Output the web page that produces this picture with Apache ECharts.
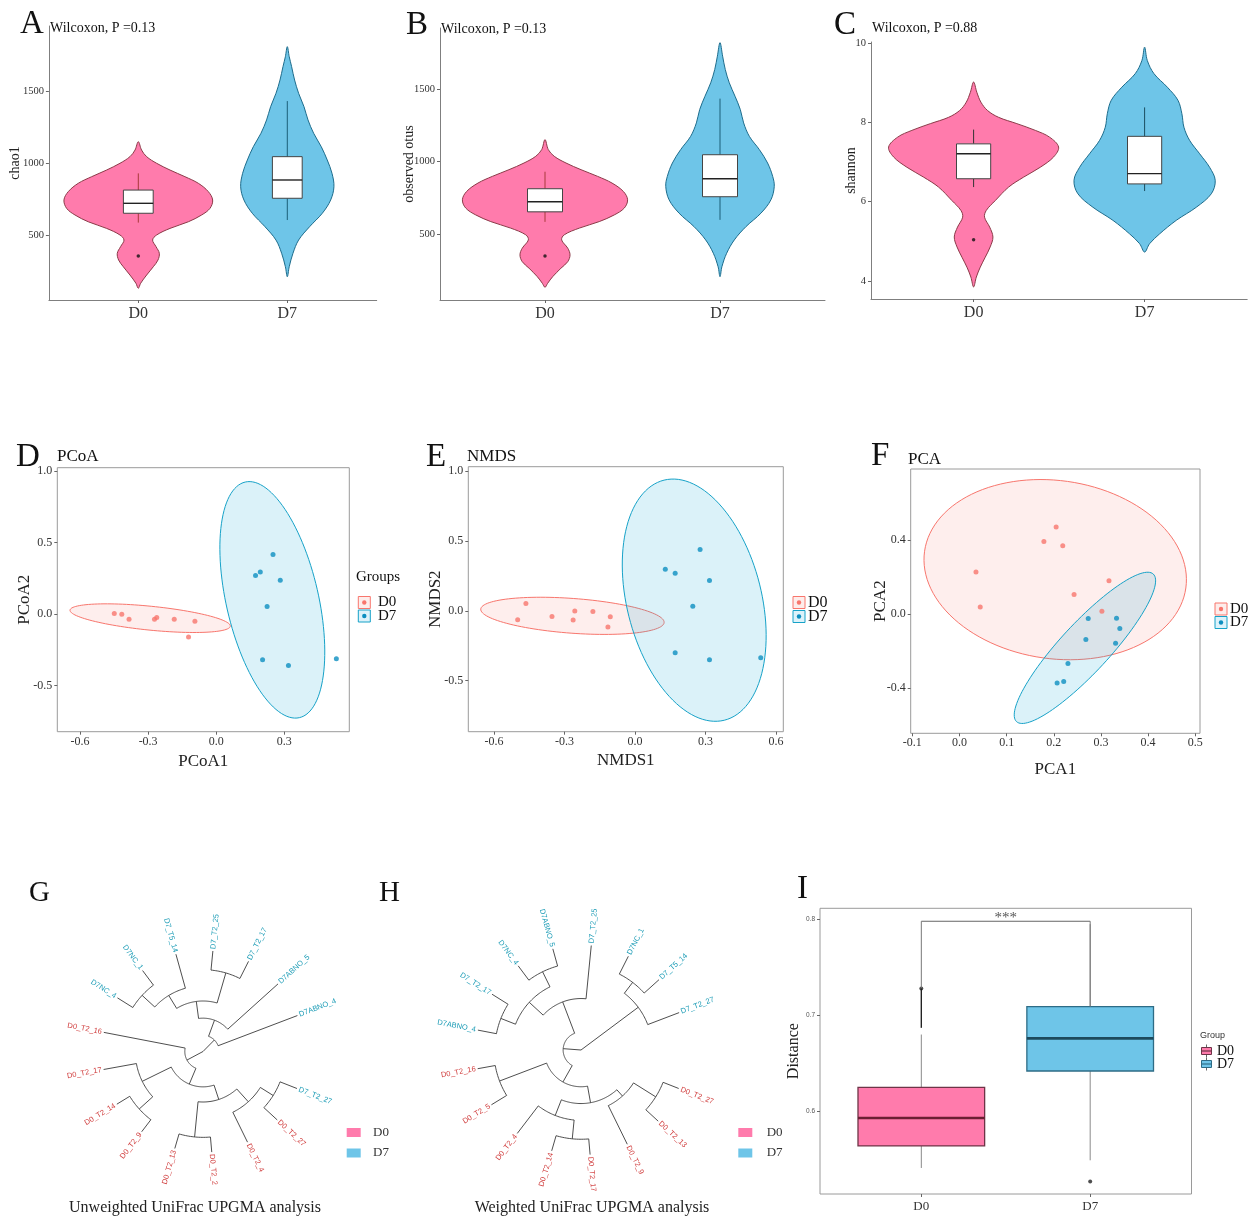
<!DOCTYPE html>
<html>
<head>
<meta charset="utf-8">
<script src="https://cdn.jsdelivr.net/npm/echarts@6/dist/echarts.min.js"></script>
<style>
html, body { margin: 0; padding: 0; background: #fff; }
#chart { width: 1253px; height: 1217px; }
</style>
</head>
<body>
<div id="chart"></div>
<script>
const groups = ['D0', 'D7'];

// A: chao1 violins, level values and half widths (in group units)
const chaoLevelD0 = [1148, 1090, 1044, 998, 951, 905, 859, 801, 743, 685, 639, 592, 546, 500, 465, 419, 373, 326, 280, 222, 165, 130];
const chaoWidthD0 = [0, 0.022, 0.056, 0.123, 0.213, 0.313, 0.403, 0.470, 0.499, 0.481, 0.425, 0.336, 0.213, 0.123, 0.096, 0.119, 0.141, 0.132, 0.101, 0.056, 0.016, 0];
const chaoLevelD7 = [1808, 1738, 1669, 1576, 1484, 1391, 1299, 1206, 1113, 1021, 928, 835, 743, 651, 558, 465, 373, 280, 210];
const chaoWidthD7 = [0, 0.013, 0.029, 0.049, 0.076, 0.112, 0.139, 0.177, 0.228, 0.268, 0.300, 0.313, 0.291, 0.235, 0.150, 0.076, 0.038, 0.013, 0];
const chaoBox = [[586, 651, 720, 812, 928], [604, 755, 882, 1044, 1430]];
const chaoOut = [[1, 354]];

// B: observed otus
const otusLevelD0 = [1152, 1083, 1037, 991, 945, 899, 853, 795, 738, 681, 634, 588, 543, 497, 462, 405, 359, 312, 267, 209, 163, 136];
const otusWidthD0 = [0, 0.019, 0.053, 0.120, 0.206, 0.301, 0.383, 0.448, 0.472, 0.453, 0.396, 0.310, 0.196, 0.110, 0.095, 0.130, 0.143, 0.130, 0.091, 0.044, 0.015, 0];
const otusLevelD7 = [1819, 1726, 1635, 1543, 1450, 1359, 1267, 1174, 1083, 991, 899, 830, 738, 646, 554, 462, 370, 278, 209];
const otusWidthD7 = [0, 0.015, 0.030, 0.053, 0.086, 0.116, 0.135, 0.168, 0.225, 0.272, 0.301, 0.310, 0.291, 0.234, 0.149, 0.082, 0.038, 0.011, 0];
const otusBox = [[586, 655, 724, 814, 931], [600, 759, 883, 1048, 1434]];
const otusOut = [[1, 351]];

// C: shannon
const shanLevelD0 = [9.02, 8.76, 8.51, 8.30, 8.13, 7.97, 7.80, 7.63, 7.38, 7.13, 6.87, 6.62, 6.37, 6.03, 5.78, 5.61, 5.36, 5.11, 4.86, 4.60, 4.35, 4.10, 3.85];
const shanWidthD0 = [0, 0.019, 0.043, 0.082, 0.146, 0.253, 0.361, 0.444, 0.497, 0.468, 0.390, 0.292, 0.205, 0.127, 0.074, 0.064, 0.094, 0.113, 0.097, 0.068, 0.039, 0.016, 0];
const shanLevelD7 = [9.90, 9.56, 9.23, 8.89, 8.56, 8.22, 7.88, 7.55, 7.21, 6.87, 6.54, 6.20, 5.86, 5.53, 5.19, 4.94, 4.73];
const shanWidthD7 = [0, 0.016, 0.055, 0.133, 0.195, 0.218, 0.230, 0.263, 0.322, 0.380, 0.413, 0.390, 0.302, 0.185, 0.088, 0.029, 0];
const shanBox = [[6.37, 6.58, 7.21, 7.46, 7.82], [6.27, 6.45, 6.71, 7.65, 8.38]];
const shanOut = [[1, 5.04]];

// D: PCoA points, ellipses as [cx, cy, ax, ay, bx, by]
const pcoaD0 = [[-0.449, 0.005], [-0.416, 0.0], [-0.384, -0.035], [-0.272, -0.035], [-0.262, -0.023], [-0.185, -0.035], [-0.094, -0.049], [-0.122, -0.160]];
const pcoaD7 = [[0.250, 0.417], [0.194, 0.295], [0.173, 0.270], [0.282, 0.237], [0.224, 0.053], [0.204, -0.319], [0.318, -0.358], [0.529, -0.312]];
const pcoaEllD0 = [-0.291, -0.028, 0.353, -0.056, -0.005, -0.083];
const pcoaEllD7 = [0.247, 0.100, 0.119, -0.823, 0.198, 0.071];

// E: NMDS
const nmdsD0 = [[-0.464, 0.052], [-0.499, -0.064], [-0.353, -0.040], [-0.256, -0.002], [-0.263, -0.066], [-0.179, -0.005], [-0.105, -0.043], [-0.115, -0.116]];
const nmdsD7 = [[0.277, 0.438], [0.129, 0.298], [0.171, 0.268], [0.317, 0.216], [0.246, 0.033], [0.171, -0.301], [0.317, -0.350], [0.535, -0.336]];
const nmdsEllD0 = [-0.266, -0.036, 0.390, -0.048, -0.0055, -0.124];
const nmdsEllD7 = [0.252, 0.076, 0.128, -0.859, 0.278, 0.115];

// F: PCA
const pcaD0 = [[0.205, 0.470], [0.179, 0.392], [0.219, 0.369], [0.035, 0.227], [0.044, 0.039], [0.243, 0.106], [0.317, 0.180], [0.302, 0.016]];
const pcaD7 = [[0.273, -0.024], [0.333, -0.022], [0.340, -0.078], [0.268, -0.137], [0.331, -0.157], [0.230, -0.267], [0.207, -0.371], [0.221, -0.364]];
const pcaEllD0 = [0.203, 0.240, 0.277, -0.099, -0.026, -0.476];
const pcaEllD7 = [0.266, -0.182, 0.145, 0.398, 0.038, -0.090];

// G / H: UPGMA trees, node = [height, child, child], leaves at height 1
const unwLeaves = ['D7_T2_27', 'D0_T2_27', 'D0_T2_4', 'D0_T2_2', 'D0_T2_13', 'D0_T2_9', 'D0_T2_14', 'D0_T2_17',
  'D0_T2_16', 'D7NC_4', 'D7NC_1', 'D7_T5_14', 'D7_T2_25', 'D7_T2_17', 'D7ABNO_5', 'D7ABNO_4'];
const unwTree = [0,
  [0.16, [0.33, [0.50, [0.65, [0.82, 'D7NC_4', 'D7NC_1'], 'D7_T5_14'], [0.81, 'D7_T2_25', 'D7_T2_17']], 'D7ABNO_5'], 'D7ABNO_4'],
  [0.18, 'D0_T2_16', [0.35, [0.67, [0.85, 'D0_T2_9', 'D0_T2_14'], 'D0_T2_17'],
    [0.50, [0.85, 'D0_T2_2', 'D0_T2_13'], [0.67, [0.82, 'D7_T2_27', 'D0_T2_27'], 'D0_T2_4']]]]
];
const wLeaves = ['D0_T2_27', 'D0_T2_13', 'D0_T2_9', 'D0_T2_17', 'D0_T2_14', 'D0_T2_4', 'D0_T2_5', 'D0_T2_16',
  'D7ABNO_4', 'D7_T2_17', 'D7NC_4', 'D7ABNO_5', 'D7_T2_25', 'D7NC_1', 'D7_T5_14', 'D7_T2_27'];
const wTree = [0,
  [0.68, [0.81, 'D7NC_1', 'D7_T5_14'], 'D7_T2_27'],
  [0.17, [0.49, [0.67, [0.82, 'D7ABNO_4', 'D7_T2_17'], [0.83, 'D7NC_4', 'D7ABNO_5']], 'D7_T2_25'],
    [0.35, [0.83, 'D0_T2_5', 'D0_T2_16'],
      [0.51, [0.67, [0.85, 'D0_T2_17', 'D0_T2_14'], 'D0_T2_4'], [0.59, [0.84, 'D0_T2_27', 'D0_T2_13'], 'D0_T2_9']]]]
];

// I: distance boxplot
const distBox = [[0.541, 0.564, 0.593, 0.625, 0.680], [0.549, 0.642, 0.676, 0.709, 0.795]];
const distOut = [[1, 0.728], [2, 0.527]];
const distBracket = [0.798, 0.687, 0.709];

const serif = '"Liberation Serif", "Times New Roman", serif';
const sans = '"Liberation Sans", Arial, sans-serif';
const pink = '#FF7BAC', blue = '#6EC5E8';
const red = '#F8766D', cyan = '#16A2C8';

const grp = v => groups[Math.round(v) - 1];
const f1 = v => Number(v).toFixed(1);

function axis(o) {
  return {
    type: 'value', gridIndex: o.gi, min: o.min, max: o.max, show: !o.hidden,
    axisLine: {show: !o.frame, onZero: false, lineStyle: {color: '#7f7f7f', width: 1}},
    axisTick: {show: !!o.ticks, length: 3, customValues: o.ticks, lineStyle: {color: '#666'}},
    axisLabel: {show: !!o.ticks, customValues: o.ticks, formatter: o.fmt || (v => String(v)),
      color: o.labelColor || '#333', fontSize: o.size || 11, fontFamily: o.font || serif, margin: o.margin || 5},
    splitLine: {show: false},
    name: o.name || '', nameLocation: 'middle', nameGap: o.gap || 20, nameMoveOverlap: false,
    nameTextStyle: {fontFamily: serif, fontSize: o.nameSize || 16, color: '#222'}
  };
}

function violin(gi, g, levels, widths, fill, stroke) {
  return {
    type: 'custom', xAxisIndex: gi, yAxisIndex: gi, z: 2, silent: true,
    data: levels.map((v, i) => [g, v, widths[i]]),
    renderItem(params, api) {
      if (params.dataIndex !== 0) return null;
      const n = levels.length, pts = [];
      for (let i = 0; i < n; i++) pts.push(api.coord([g + widths[i], levels[i]]));
      for (let i = n - 2; i > 0; i--) pts.push(api.coord([g - widths[i], levels[i]]));
      return {type: 'polygon', shape: {points: pts, smooth: 0.35}, style: {fill, stroke, lineWidth: 1}};
    }
  };
}

function line(a, b, stroke, w) {
  return {type: 'line', shape: {x1: a[0], y1: a[1], x2: b[0], y2: b[1]}, style: {stroke, lineWidth: w}};
}

function boxes(gi, stats, half, fills, strokes, whisk, meds, lw, medW) {
  return {
    type: 'custom', xAxisIndex: gi, yAxisIndex: gi, z: 3, silent: true,
    data: stats.map((s, i) => [i + 1].concat(s)),
    renderItem(params, api) {
      const i = params.dataIndex;
      const g = api.value(0), lo = api.value(1), q1 = api.value(2), md = api.value(3), q3 = api.value(4), hi = api.value(5);
      const tl = api.coord([g - half, q3]), br = api.coord([g + half, q1]);
      return {type: 'group', children: [
        line(api.coord([g, hi]), api.coord([g, q3]), whisk[i], 1),
        line(api.coord([g, q1]), api.coord([g, lo]), whisk[i], 1),
        {type: 'rect', shape: {x: tl[0], y: tl[1], width: br[0] - tl[0], height: br[1] - tl[1]},
          style: {fill: fills[i], stroke: strokes[i], lineWidth: lw}},
        line(api.coord([g - half, md]), api.coord([g + half, md]), meds[i], medW)
      ]};
    }
  };
}

function dots(gi, data, color, size) {
  return {type: 'scatter', xAxisIndex: gi, yAxisIndex: gi, z: 4, silent: true, data,
    symbolSize: size, itemStyle: {color}};
}

function ellipse(gi, e, stroke, fill) {
  return {
    type: 'custom', xAxisIndex: gi, yAxisIndex: gi, z: 1, silent: true, clip: true, data: [e],
    renderItem(params, api) {
      const pts = [];
      for (let k = 0; k < 120; k++) {
        const t = k / 120 * 2 * Math.PI;
        pts.push(api.coord([e[0] + e[2] * Math.cos(t) + e[4] * Math.sin(t), e[1] + e[3] * Math.cos(t) + e[5] * Math.sin(t)]));
      }
      return {type: 'polygon', shape: {points: pts}, style: {fill, stroke, lineWidth: 1}};
    }
  };
}

function treeLayout(tree, leaves, startDeg) {
  const step = 360 / (leaves.length + 1);
  const segs = [], tips = [];
  const ang = y => (startDeg - (y - 1) * step) * Math.PI / 180;
  function walk(node) {
    if (typeof node === 'string') {
      const y = leaves.indexOf(node) + 1;
      tips.push([1, ang(y), node]);
      return {y, h: 1};
    }
    const kids = node.slice(1).map(walk);
    const h = node[0];
    const y = kids.reduce((s, k) => s + k.y, 0) / kids.length;
    kids.forEach(k => segs.push([0, h, k.h, ang(k.y), 0]));
    if (h > 0) {
      const as = kids.map(k => ang(k.y));
      segs.push([1, h, h, Math.min(...as), Math.max(...as)]);
    }
    return {y, h};
  }
  walk(tree);
  return {segs, tips};
}

function treeSeries(gi, layout) {
  const pt = (api, r, a) => api.coord([r * Math.cos(a), r * Math.sin(a)]);
  return [{
    type: 'custom', xAxisIndex: gi, yAxisIndex: gi, silent: true, data: layout.segs,
    renderItem(params, api) {
      const kind = api.value(0), r0 = api.value(1), r1 = api.value(2), a0 = api.value(3), a1 = api.value(4);
      let pts;
      if (kind === 0) pts = [pt(api, r0, a0), pt(api, r1, a0)];
      else {
        pts = [];
        const n = Math.max(2, Math.ceil((a1 - a0) / 0.02));
        for (let i = 0; i <= n; i++) pts.push(pt(api, r0, a0 + (a1 - a0) * i / n));
      }
      return {type: 'polyline', shape: {points: pts}, style: {stroke: '#3a3a3a', lineWidth: 0.9, fill: null}};
    }
  }, {
    type: 'custom', xAxisIndex: gi, yAxisIndex: gi, silent: true, data: layout.tips.map(t => [t[0], t[1]]),
    renderItem(params, api) {
      const a = api.value(1);
      const name = layout.tips[params.dataIndex][2];
      const p = pt(api, 1.02, a);
      const right = Math.cos(a) >= 0;
      const al = right ? 'left' : 'right';
      return {type: 'text', x: p[0], y: p[1], rotation: right ? a : a - Math.PI,
        style: {text: name, fill: name.indexOf('D0') === 0 ? '#D03C3C' : '#1C9CB6', font: '7.5px ' + sans,
          textAlign: al, align: al, textVerticalAlign: 'middle', verticalAlign: 'middle'}};
    }
  }];
}

function txt(x, y, text, size, opt) {
  opt = opt || {};
  const al = opt.align || 'left';
  return {type: 'text', x, y, silent: true, rotation: opt.rotation || 0,
    style: {text, font: (opt.font || (size + 'px ' + serif)), fill: opt.fill || '#111',
      textAlign: al, align: al, textVerticalAlign: 'middle', verticalAlign: 'middle'}};
}

function dotKey(x, y, stroke, fill, dot) {
  return [
    {type: 'rect', shape: {x, y, width: 12, height: 12}, style: {fill, stroke, lineWidth: 1}, silent: true},
    {type: 'circle', shape: {cx: x + 6, cy: y + 6, r: 2.2}, style: {fill: dot}, silent: true}
  ];
}

function boxKey(x, y, fill, stroke) {
  return [
    {type: 'line', shape: {x1: x + 5, y1: y - 3, x2: x + 5, y2: y + 10}, style: {stroke: '#666', lineWidth: 1}, silent: true},
    {type: 'rect', shape: {x, y, width: 10, height: 7}, style: {fill, stroke, lineWidth: 1}, silent: true},
    {type: 'line', shape: {x1: x, y1: y + 3.5, x2: x + 10, y2: y + 3.5}, style: {stroke, lineWidth: 1.2}, silent: true}
  ];
}

const unwLayout = treeLayout(unwTree, unwLeaves, -21.5);
const wLayout = treeLayout(wTree, wLeaves, -21.5);

const gridBase = {containLabel: false, outerBoundsMode: 'none'};
const frame = {show: true, borderColor: '#9a9a9a', borderWidth: 1, backgroundColor: 'transparent'};
const grids = [
  Object.assign({left: 48.9, top: 26, width: 327.8, height: 274}, gridBase),
  Object.assign({left: 440, top: 28, width: 385, height: 272}, gridBase),
  Object.assign({left: 871, top: 42, width: 376.2, height: 257}, gridBase),
  Object.assign({left: 57.3, top: 467.7, width: 292, height: 264}, gridBase, frame),
  Object.assign({left: 468.3, top: 466.7, width: 315, height: 265}, gridBase, frame),
  Object.assign({left: 910.7, top: 469, width: 289.3, height: 264.3}, gridBase, frame),
  Object.assign({left: 820, top: 908.3, width: 371.5, height: 285.7}, gridBase, frame),
  Object.assign({left: 61.6, top: 910.1, width: 282.8, height: 282.8}, gridBase),
  Object.assign({left: 434, top: 903, width: 294, height: 294}, gridBase)
];

const xAxes = [
  axis({gi: 0, min: 0.4, max: 2.6, ticks: [1, 2], fmt: grp, size: 16, margin: 6}),
  axis({gi: 1, min: 0.4, max: 2.6, ticks: [1, 2], fmt: grp, size: 16, margin: 6}),
  axis({gi: 2, min: 0.4, max: 2.6, ticks: [1, 2], fmt: grp, size: 16, margin: 6}),
  axis({gi: 3, min: -0.7, max: 0.586, ticks: [-0.6, -0.3, 0, 0.3], fmt: f1, size: 12, margin: 4, frame: true, name: 'PCoA1', gap: 21, nameSize: 17}),
  axis({gi: 4, min: -0.709, max: 0.631, ticks: [-0.6, -0.3, 0, 0.3, 0.6], fmt: f1, size: 12, margin: 4, frame: true, name: 'NMDS1', gap: 20, nameSize: 17}),
  axis({gi: 5, min: -0.1034, max: 0.51, ticks: [-0.1, 0, 0.1, 0.2, 0.3, 0.4, 0.5], fmt: f1, size: 12, margin: 4, frame: true, name: 'PCA1', gap: 28, nameSize: 17}),
  axis({gi: 6, min: 0.4, max: 2.6, ticks: [1, 2], fmt: grp, size: 13, margin: 6, frame: true}),
  axis({gi: 7, min: -1.4, max: 1.4, hidden: true}),
  axis({gi: 8, min: -1.4, max: 1.4, hidden: true})
];
const yAxes = [
  axis({gi: 0, min: 48.6, max: 1951.4, ticks: [500, 1000, 1500], size: 10.5, name: 'chao1', gap: 27, nameSize: 14}),
  axis({gi: 1, min: 48.4, max: 1920, ticks: [500, 1000, 1500], size: 10.5, name: 'observed otus', gap: 24, nameSize: 14}),
  axis({gi: 2, min: 3.546, max: 10.03, ticks: [4, 6, 8, 10], size: 10.5, name: 'shannon', gap: 13, nameSize: 14}),
  axis({gi: 3, min: -0.821, max: 1.023, ticks: [-0.5, 0, 0.5, 1], fmt: f1, size: 12, frame: true, name: 'PCoA2', gap: 24, nameSize: 17}),
  axis({gi: 4, min: -0.865, max: 1.031, ticks: [-0.5, 0, 0.5, 1], fmt: f1, size: 12, frame: true, name: 'NMDS2', gap: 24, nameSize: 17}),
  axis({gi: 5, min: -0.643, max: 0.783, ticks: [-0.4, 0, 0.4], fmt: f1, size: 12, frame: true, name: 'PCA2', gap: 22, nameSize: 17}),
  axis({gi: 6, min: 0.5139, max: 0.8115, ticks: [0.6, 0.7, 0.8], fmt: f1, size: 6.5, font: sans, labelColor: '#555', frame: true, name: 'Distance', gap: 18, nameSize: 16}),
  axis({gi: 7, min: -1.4, max: 1.4, hidden: true}),
  axis({gi: 8, min: -1.4, max: 1.4, hidden: true})
];

const vStroke = ['#8B3A48', '#1D6C8C'];
const vWhisk = ['#A83A3A', '#1B5E78'];
const series = [
  violin(0, 1, chaoLevelD0, chaoWidthD0, pink, vStroke[0]),
  violin(0, 2, chaoLevelD7, chaoWidthD7, blue, vStroke[1]),
  boxes(0, chaoBox, 0.1, ['#fff', '#fff'], ['#444', '#444'], vWhisk, ['#222', '#222'], 1, 1.4),
  dots(0, chaoOut, '#111', 3.5),
  violin(1, 1, otusLevelD0, otusWidthD0, pink, vStroke[0]),
  violin(1, 2, otusLevelD7, otusWidthD7, blue, vStroke[1]),
  boxes(1, otusBox, 0.1, ['#fff', '#fff'], ['#444', '#444'], vWhisk, ['#222', '#222'], 1, 1.4),
  dots(1, otusOut, '#111', 3.5),
  violin(2, 1, shanLevelD0, shanWidthD0, pink, vStroke[0]),
  violin(2, 2, shanLevelD7, shanWidthD7, blue, vStroke[1]),
  boxes(2, shanBox, 0.1, ['#fff', '#fff'], ['#444', '#444'], ['#333', '#1B4E60'], ['#222', '#222'], 1, 1.4),
  dots(2, shanOut, '#111', 3.5),

  ellipse(3, pcoaEllD0, red, 'rgba(248,118,109,0.12)'),
  ellipse(3, pcoaEllD7, cyan, 'rgba(0,165,210,0.14)'),
  dots(3, pcoaD0, red, 5),
  dots(3, pcoaD7, '#0C8EC0', 5),
  ellipse(4, nmdsEllD0, red, 'rgba(248,118,109,0.12)'),
  ellipse(4, nmdsEllD7, cyan, 'rgba(0,165,210,0.14)'),
  dots(4, nmdsD0, red, 5),
  dots(4, nmdsD7, '#0C8EC0', 5),
  ellipse(5, pcaEllD0, red, 'rgba(248,118,109,0.12)'),
  ellipse(5, pcaEllD7, cyan, 'rgba(0,165,210,0.14)'),
  dots(5, pcaD0, red, 5),
  dots(5, pcaD7, '#0C8EC0', 5),

  boxes(6, distBox, 0.375, [pink, blue], ['#6E3447', '#2E6C86'], ['#8a8a8a', '#8a8a8a'], ['#6B1F33', '#1D4A5C'], 1.3, 2.6),
  dots(6, distOut, '#222', 4),
  {
    type: 'custom', xAxisIndex: 6, yAxisIndex: 6, z: 5, silent: true, data: [distBracket],
    renderItem(params, api) {
      const top = api.value(0), l = api.value(1), r = api.value(2);
      const a = api.coord([1, top]), b = api.coord([2, top]);
      const c = api.coord([1, distOut[0][1]]), d = api.coord([1, l]), e = api.coord([2, r]);
      const m = api.coord([1.5, top]);
      return {type: 'group', children: [
        line(a, b, '#666', 1),
        line(a, c, '#777', 1),
        line(c, d, '#222', 1.4),
        line(b, e, '#777', 1),
        {type: 'text', x: m[0], y: m[1] - 3, style: {text: '***', font: '15px ' + serif, fill: '#555',
          textAlign: 'center', align: 'center', textVerticalAlign: 'middle', verticalAlign: 'middle'}}
      ]};
    }
  }
].concat(treeSeries(7, unwLayout), treeSeries(8, wLayout));

const graphics = [
  txt(20, 24, 'A', 33), txt(406, 25, 'B', 33), txt(834, 25, 'C', 33),
  txt(50, 28, 'Wilcoxon, P =0.13', 14), txt(441, 29, 'Wilcoxon, P =0.13', 14), txt(872, 28, 'Wilcoxon, P =0.88', 14),
  txt(16, 457, 'D', 33), txt(426, 457, 'E', 33), txt(871, 456, 'F', 33),
  txt(57, 457, 'PCoA', 17), txt(467, 457, 'NMDS', 17), txt(908, 460, 'PCA', 17),
  txt(356, 577, 'Groups', 15),
  txt(378, 602, 'D0', 15), txt(378, 616, 'D7', 15),
  txt(808, 602.5, 'D0', 16), txt(808, 616.5, 'D7', 16),
  txt(1230, 609, 'D0', 15), txt(1230, 622.5, 'D7', 15),
  txt(29, 893, 'G', 29), txt(379, 893, 'H', 29), txt(797, 889, 'I', 33),
  {type: 'rect', shape: {x: 346.7, y: 1128, width: 14, height: 9}, style: {fill: pink}, silent: true},
  {type: 'rect', shape: {x: 346.7, y: 1148.5, width: 14, height: 9}, style: {fill: blue}, silent: true},
  txt(373, 1132.5, 'D0', 13, {fill: '#333'}), txt(373, 1153, 'D7', 13, {fill: '#333'}),
  {type: 'rect', shape: {x: 738.3, y: 1128, width: 14, height: 9}, style: {fill: pink}, silent: true},
  {type: 'rect', shape: {x: 738.3, y: 1148.5, width: 14, height: 9}, style: {fill: blue}, silent: true},
  txt(766.7, 1132.5, 'D0', 13, {fill: '#333'}), txt(766.7, 1153, 'D7', 13, {fill: '#333'}),
  txt(195, 1208, 'Unweighted UniFrac UPGMA analysis', 16, {align: 'center', fill: '#222'}),
  txt(592, 1208, 'Weighted UniFrac UPGMA analysis', 16, {align: 'center', fill: '#222'}),
  txt(1200, 1036, 'Group', 9, {font: '9px ' + sans, fill: '#333'}),
  txt(1217, 1051, 'D0', 14), txt(1217, 1064, 'D7', 14)
].concat(
  dotKey(358.3, 596.5, red, '#FDEDEB', red), dotKey(358.3, 610, cyan, '#DDF2FA', '#0C8EC0'),
  dotKey(793, 596.5, red, '#FDEDEB', red), dotKey(793, 610.5, cyan, '#DDF2FA', '#0C8EC0'),
  dotKey(1215, 603, red, '#FDEDEB', red), dotKey(1215, 616.5, cyan, '#DDF2FA', '#0C8EC0'),
  boxKey(1201.5, 1047.5, pink, '#6E3447'), boxKey(1201.5, 1060.5, blue, '#2E6C86')
);

const chart = echarts.init(document.getElementById('chart'));
chart.setOption({
  animation: false,
  backgroundColor: '#fff',
  textStyle: {fontFamily: serif},
  grid: grids,
  xAxis: xAxes,
  yAxis: yAxes,
  series,
  graphic: {elements: graphics}
});
</script>
</body>
</html>
